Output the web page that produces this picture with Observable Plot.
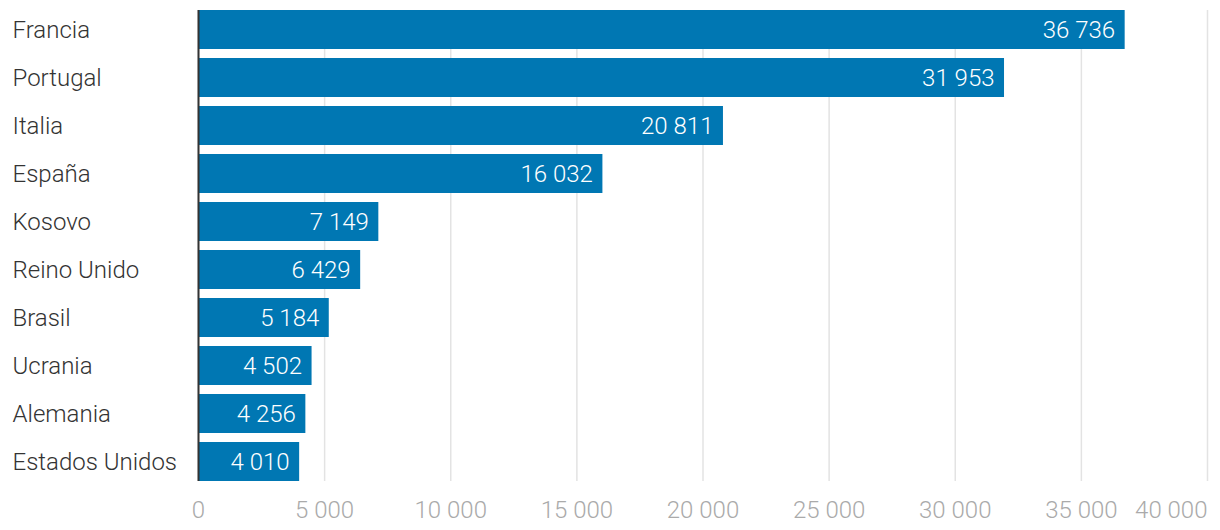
<!DOCTYPE html>
<html><head><meta charset="utf-8">
<script src="https://cdn.jsdelivr.net/npm/d3@7"></script>
<script src="https://cdn.jsdelivr.net/npm/@observablehq/plot@0.6"></script>
<style>
html,body{margin:0;padding:0;background:#fff;}
svg{font-family:Roboto,"Noto Sans",sans-serif;}
</style>
</head><body>
<div id="chart"></div>
<script>
const countries = ["Francia","Portugal","Italia","España","Kosovo","Reino Unido","Brasil","Ucrania","Alemania","Estados Unidos"];
const values = [36736,31953,20811,16032,7149,6429,5184,4502,4256,4010];
const ticks = [0,5000,10000,15000,20000,25000,30000,35000];
const lastTick = [40000];

const data = countries.map((c,i)=>({country:c, value:values[i]}));
const fmt = d3.formatLocale({thousands:" ", grouping:[3], decimal:",", currency:["",""]}).format(",d");

const chart = Plot.plot({
  width: 1220,
  height: 530,
  marginLeft: 198,
  marginRight: 13,
  marginTop: 10,
  marginBottom: 49,
  style: {fontFamily: "Roboto, 'Noto Sans', sans-serif", fontSize: "24px", fontWeight: 300},
  x: {domain:[0,40000], axis: null, label: null},
  y: {domain: countries, paddingInner: 0.1875, paddingOuter: 0, axis: null, label: null},
  marks: [
    Plot.gridX(ticks.concat(lastTick), {stroke:"#e3e3e3", strokeOpacity:1, strokeWidth:1.5}),
    Plot.barX(data, {x:"value", y:"country", fill:"#0077b3"}),
    Plot.ruleX([0], {stroke:"#333", strokeWidth:2}),
    Plot.text(data, {x:"value", y:"country", text:d=>fmt(d.value), textAnchor:"end", dx:-10, fill:"#fff", fontSize:24, fontWeight:300}),
    Plot.axisY({tickSize:0, tickPadding:0, textAnchor:"start", dx:-186, fill:"#333", fontSize:24, fontWeight:300, label:null}),
    Plot.axisX(ticks, {tickSize:0, tickPadding:0, dy:19, tickFormat:fmt, fill:"#aaa", fontSize:24, fontWeight:300, label:null}),
    Plot.axisX(lastTick, {tickSize:0, tickPadding:0, dy:19, textAnchor:"end", tickFormat:fmt, fill:"#aaa", fontSize:24, fontWeight:300, label:null})
  ]
});
document.getElementById("chart").appendChild(chart);
</script>
</body></html>
